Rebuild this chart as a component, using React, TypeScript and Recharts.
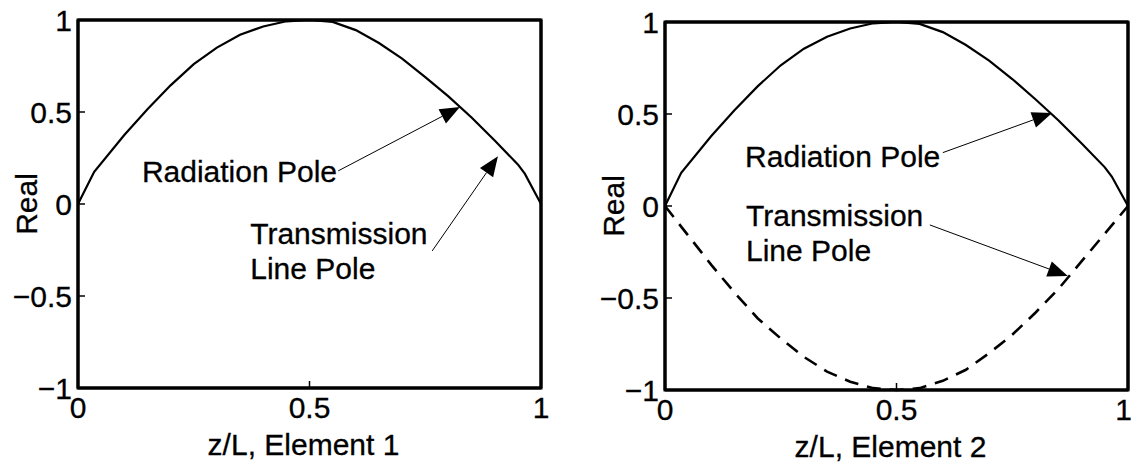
import React from "react";
import { LineChart, Line, XAxis, YAxis, ReferenceLine, ReferenceDot, ReferenceArea } from "recharts";

// sample positions along the element (z/L)
const zRad = [0, 0.035, 0.1, 0.15, 0.2, 0.25, 0.3, 0.35, 0.4, 0.45, 0.5, 0.55, 0.6, 0.65, 0.7, 0.75, 0.8, 0.85, 0.9, 0.95, 0.965, 1];
const radPole1 = [0, 0.175, 0.375, 0.515, 0.645, 0.76, 0.85, 0.92, 0.965, 0.993, 1, 0.99, 0.945, 0.875, 0.79, 0.69, 0.585, 0.47, 0.345, 0.215, 0.165, 0];
const radPole2 = [0, 0.18, 0.38, 0.52, 0.65, 0.765, 0.855, 0.92, 0.965, 0.993, 1, 0.99, 0.945, 0.875, 0.79, 0.69, 0.58, 0.465, 0.34, 0.21, 0.16, 0];

const zTl = [0, 0.05, 0.1, 0.15, 0.2, 0.25, 0.3, 0.35, 0.4, 0.45, 0.5, 0.55, 0.6, 0.65, 0.7, 0.75, 0.8, 0.85, 0.9, 0.95, 1];
const tlPole2 = [0, -0.16, -0.32, -0.47, -0.61, -0.72, -0.82, -0.9, -0.955, -0.99, -1, -0.99, -0.95, -0.89, -0.8, -0.7, -0.58, -0.45, -0.3, -0.15, 0];

const xTicks = [0, 0.5, 1];
const yTicks = [-1, -0.5, 0, 0.5, 1];

// annotation text anchors [z, value] and arrows [zFrom, vFrom, zTo, vTo]
const notes1 = [
  { z: 0.138, v: 0.18, lines: ["Radiation Pole"] },
  { z: 0.372, v: -0.16, lines: ["Transmission", "Line Pole"] },
];
const arrows1 = [
  [0.562, 0.18, 0.825, 0.527],
  [0.765, -0.255, 0.907, 0.26],
];
const notes2 = [
  { z: 0.173, v: 0.27, lines: ["Radiation Pole"] },
  { z: 0.175, v: -0.05, lines: ["Transmission", "Line Pole"] },
];
const arrows2 = [
  [0.6, 0.29, 0.836, 0.505],
  [0.572, -0.103, 0.87, -0.38],
];

const FONT = '"Liberation Sans", Arial, Helvetica, sans-serif';
const FS = 30;

const toRows = (zs: number[], vs: number[]) => zs.map((z, i) => ({ z, v: vs[i] }));

function Arrow(p: any) {
  const { x1, y1, x2, y2 } = p;
  const ang = Math.atan2(y2 - y1, x2 - x1);
  const len = 20;
  const half = 8;
  const bx = x2 - len * Math.cos(ang);
  const by = y2 - len * Math.sin(ang);
  const px = -Math.sin(ang) * half;
  const py = Math.cos(ang) * half;
  return (
    <g>
      <line x1={x1} y1={y1} x2={bx} y2={by} stroke="#000" strokeWidth={1} />
      <polygon points={`${x2},${y2} ${bx + px},${by + py} ${bx - px},${by - py}`} fill="#000" />
    </g>
  );
}

function Note(lines: string[]) {
  return (p: any) => (
    <text x={p.cx} y={p.cy} fontFamily={FONT} fontSize={FS} fill="#000" stroke="#000" strokeWidth={0.3} dominantBaseline="central">
      {lines.map((s, i) => (
        <tspan key={i} x={p.cx} dy={i === 0 ? 0 : 35}>
          {s}
        </tspan>
      ))}
    </text>
  );
}

function Panel(props: {
  left: number;
  width: number;
  top: number;
  right: number;
  xHeight: number;
  xLabel: string;
  solid: number[];
  dashed?: number[];
  notes: { z: number; v: number; lines: string[] }[];
  arrows: number[][];
}) {
  const tick = { fontFamily: FONT, fontSize: FS, fill: "#000", stroke: "#000", strokeWidth: 0.3 };
  const edge = { stroke: "#000", strokeWidth: 3 };
  const tl = { stroke: "#000", strokeWidth: 1.5 };
  return (
    <div style={{ position: "absolute", left: props.left, top: 0 }}>
      <LineChart
        width={props.width}
        height={463}
        margin={{ top: props.top - 1, right: props.right - 1, bottom: 0, left: 0 }}
      >
        <XAxis
          xAxisId="b"
          dataKey="z"
          type="number"
          domain={[0, 1]}
          ticks={xTicks}
          tickFormatter={(t: number) => String(t)}
          height={props.xHeight}
          tick={tick}
          tickSize={-7}
          tickMargin={16}
          axisLine={edge}
          tickLine={tl}
          label={{
            content: (lp: any) => {
              const vb = lp.viewBox;
              return (
                <text x={vb.x + vb.width / 2 - 6} y={vb.y + 56} textAnchor="middle" dominantBaseline="central" fontFamily={FONT} fontSize={FS} fill="#000" stroke="#000" strokeWidth={0.3}>
                  {props.xLabel}
                </text>
              );
            },
          }}
        />
        <XAxis
          xAxisId="t"
          orientation="top"
          type="number"
          domain={[0, 1]}
          ticks={xTicks}
          tickFormatter={() => ""}
          height={1}
          tickSize={-7}
          axisLine={edge}
          tickLine={tl}
        />
        <YAxis
          yAxisId="l"
          type="number"
          domain={[-1, 1]}
          ticks={yTicks}
          tickFormatter={(t: number) => (t < 0 ? "\u2212" + String(-t) : String(t))}
          width={78}
          tick={tick}
          tickSize={-7}
          tickMargin={13}
          axisLine={edge}
          tickLine={tl}
          label={{
            content: (lp: any) => {
              const vb = lp.viewBox;
              const cx = vb.x + 26;
              const cy = vb.y + vb.height / 2;
              return (
                <text x={cx} y={cy} transform={`rotate(-90 ${cx} ${cy})`} textAnchor="middle" dominantBaseline="central" fontFamily={FONT} fontSize={FS} fill="#000" stroke="#000" strokeWidth={0.3}>
                  Real
                </text>
              );
            },
          }}
        />
        <YAxis
          yAxisId="r"
          orientation="right"
          type="number"
          domain={[-1, 1]}
          ticks={yTicks}
          tickFormatter={() => ""}
          width={1}
          tickSize={-7}
          axisLine={edge}
          tickLine={tl}
        />
        <ReferenceArea xAxisId="b" yAxisId="l" x1={0} x2={1} y1={-1} y2={1} fill="none" fillOpacity={0} stroke="#000" strokeWidth={3} ifOverflow="visible" />
        <Line
          xAxisId="b"
          yAxisId="l"
          data={toRows(zRad, props.solid)}
          dataKey="v"
          type="linear"
          stroke="#000"
          strokeWidth={2.2}
          dot={false}
          isAnimationActive={false}
        />
        {props.dashed && (
          <Line
            xAxisId="b"
            yAxisId="l"
            data={toRows(zTl, props.dashed)}
            dataKey="v"
            type="linear"
            stroke="#000"
            strokeWidth={2.6}
            strokeDasharray="14 9"
            dot={false}
            isAnimationActive={false}
          />
        )}
        {props.arrows.map((a, i) => (
          <ReferenceLine
            key={"a" + i}
            xAxisId="b"
            yAxisId="l"
            segment={[
              { x: a[0], y: a[1] },
              { x: a[2], y: a[3] },
            ]}
            ifOverflow="visible"
            shape={(p: any) => <Arrow {...p} />}
          />
        ))}
        {props.notes.map((n, i) => (
          <ReferenceDot key={"n" + i} xAxisId="b" yAxisId="l" x={n.z} y={n.v} ifOverflow="visible" shape={Note(n.lines)} />
        ))}
      </LineChart>
    </div>
  );
}

export default function App() {
  return (
    <div style={{ position: "absolute", left: 0, top: 0, width: 1131, height: 463, background: "#fff", overflow: "hidden" }}>
      <Panel left={0} width={565} top={20} right={24} xHeight={75} xLabel="z/L, Element 1" solid={radPole1} notes={notes1} arrows={arrows1} />
      <Panel left={587} width={544} top={22} right={3} xHeight={73} xLabel="z/L, Element 2" solid={radPole2} dashed={tlPole2} notes={notes2} arrows={arrows2} />
    </div>
  );
}
